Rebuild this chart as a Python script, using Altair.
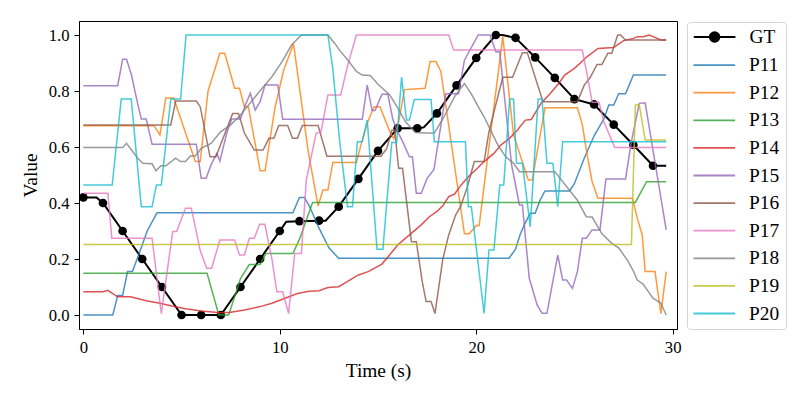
import altair as alt
import pandas as pd

SERIES = ["GT", "P11", "P12", "P13", "P14", "P15", "P16", "P17", "P18", "P19", "P20"]
COLORS = ["#000000", "#1f77b4", "#ff7f0e", "#2ca02c", "#d62728", "#9467bd",
          "#8c564b", "#e377c2", "#7f7f7f", "#bcbd22", "#17becf"]

GT = [(0, 0.42), (0.67, 0.42), (1, 0.40), (2, 0.30), (3, 0.20), (4, 0.10), (5, 0.0), (6, 0.0),
      (7, 0.0), (8, 0.10), (9, 0.20), (10, 0.30), (10.33, 0.333), (11, 0.335), (12, 0.337),
      (12.33, 0.337), (13, 0.387), (14, 0.486), (15, 0.586), (16, 0.667), (17, 0.667),
      (17.33, 0.67), (18, 0.72), (19, 0.82), (20, 0.918), (21, 1.0), (21.33, 1.0), (22, 0.99),
      (23, 0.92), (24, 0.847), (25, 0.771), (26, 0.752), (27, 0.68), (28, 0.607), (29, 0.533),
      (29.67, 0.533)]

P11 = [(0, 0), (1.5, 0), (1.75, 0.07), (2.0, 0.07), (2.25, 0.155), (2.5, 0.155), (3.0, 0.25),
       (3.25, 0.30), (3.75, 0.365), (10.67, 0.365), (11.0, 0.42), (11.25, 0.42), (11.5, 0.39),
       (12.0, 0.31), (12.5, 0.24), (13.0, 0.2025), (21.67, 0.2025), (22.0, 0.235), (22.25, 0.29),
       (22.5, 0.33), (22.75, 0.363), (23.0, 0.363), (23.25, 0.41), (23.5, 0.443), (24.75, 0.443),
       (25.0, 0.47), (25.5, 0.56), (26.0, 0.64), (26.5, 0.70), (26.75, 0.75), (27.0, 0.75),
       (27.25, 0.79), (27.6, 0.79), (28.0, 0.857), (29.67, 0.857)]

P12 = [(0, 0.676), (3.6, 0.676), (3.9, 0.643), (4.2, 0.775), (4.6, 0.775), (5.7, 0.548),
       (5.95, 0.548), (6.35, 0.80), (6.95, 0.935), (7.2, 0.935), (7.7, 0.81), (7.95, 0.81),
       (8.2, 0.744), (8.4, 0.744), (9.0, 0.515), (9.25, 0.515), (9.75, 0.738), (10.2, 0.875),
       (10.7, 0.968), (11.45, 0.583), (11.95, 0.39), (12.2, 0.446), (12.45, 0.446), (12.7, 0.545),
       (13.9, 0.545), (14.15, 0.613), (14.45, 0.685), (14.8, 0.744), (15.1, 0.744), (15.6, 0.655),
       (15.8, 0.63), (16.05, 0.69), (16.35, 0.805), (17.4, 0.81), (17.65, 0.905), (17.95, 0.905),
       (18.2, 0.87), (19.4, 0.29), (19.65, 0.29), (20.0, 0.32), (20.15, 0.32), (21.35, 0.995),
       (21.9, 0.643), (22.65, 0.482), (22.85, 0.482), (23.5, 0.74), (25.15, 0.74), (25.4, 0.68),
       (25.65, 0.57), (25.9, 0.476), (26.2, 0.417), (27.95, 0.417), (28.2, 0.345), (28.45, 0.286),
       (28.6, 0.155), (29.1, 0.155), (29.4, 0.005), (29.67, 0.155)]

P13 = [(0, 0.149), (6.3, 0.149), (6.9, 0.0), (7.4, 0.0), (8.0, 0.13), (8.45, 0.18), (9.0, 0.18),
       (9.3, 0.22), (10.67, 0.22), (11.0, 0.27), (11.67, 0.402), (28.1, 0.402), (28.67, 0.476),
       (29.67, 0.476)]

P14 = [(0, 0.083), (1.0, 0.083), (1.25, 0.088), (1.75, 0.065), (2.4, 0.065), (3.2, 0.051),
       (3.9, 0.042), (4.5, 0.032), (5.2, 0.022), (6.0, 0.014), (7.0, 0.008), (7.5, 0.01),
       (8.2, 0.018), (9.0, 0.03), (9.6, 0.042), (10.2, 0.058), (10.9, 0.077), (11.5, 0.085),
       (12.0, 0.087), (12.45, 0.098), (13.0, 0.101), (13.5, 0.122), (14.0, 0.143), (14.5, 0.155),
       (15.2, 0.182), (15.6, 0.215), (16.0, 0.25), (16.5, 0.28), (17.2, 0.322), (17.6, 0.35),
       (18.0, 0.37), (18.3, 0.39), (18.6, 0.423), (18.9, 0.432), (19.2, 0.462), (19.6, 0.494),
       (20.1, 0.527), (20.4, 0.548), (20.9, 0.577), (21.25, 0.607), (21.7, 0.631), (22.1, 0.661),
       (22.5, 0.696), (22.8, 0.698), (23.3, 0.756), (23.7, 0.786), (24.2, 0.827), (24.5, 0.857),
       (25.0, 0.881), (25.65, 0.923), (26.2, 0.952), (27.0, 0.955), (27.5, 0.98), (28.0, 0.988),
       (28.2, 0.994), (28.5, 0.994), (28.8, 1.0), (29.0, 0.994), (29.4, 0.982), (29.67, 0.982)]

P15 = [(0, 0.819), (1.75, 0.819), (2.0, 0.913), (2.2, 0.913), (2.45, 0.857), (2.75, 0.76),
       (2.95, 0.70), (3.2, 0.70), (3.5, 0.61), (5.75, 0.61), (6.0, 0.488), (6.25, 0.488),
       (6.5, 0.536), (6.8, 0.577), (6.95, 0.55), (7.3, 0.649), (7.55, 0.70), (8.0, 0.70),
       (8.25, 0.75), (8.5, 0.792), (8.75, 0.732), (9.0, 0.762), (9.25, 0.821), (9.9, 0.821),
       (10.15, 0.699), (14.2, 0.699), (14.45, 0.821), (14.7, 0.73), (14.85, 0.73), (15.2, 0.788),
       (15.5, 0.788), (15.75, 0.70), (16.0, 0.655), (16.25, 0.62), (16.6, 0.565), (16.75, 0.565),
       (16.95, 0.435), (17.2, 0.435), (17.5, 0.488), (17.85, 0.52), (18.45, 0.79), (19.1, 0.79),
       (19.4, 0.91), (20.1, 1.0), (20.7, 1.0), (21.0, 0.94), (21.2, 0.94), (21.8, 0.536),
       (22.2, 0.393), (22.35, 0.393), (22.7, 0.131), (23.1, 0.036), (23.35, 0.006), (23.6, 0.006),
       (23.9, 0.12), (24.15, 0.214), (24.4, 0.125), (24.6, 0.125), (24.9, 0.095), (25.15, 0.155),
       (25.4, 0.274), (25.6, 0.274), (25.9, 0.304), (26.3, 0.304), (26.6, 0.486), (27.6, 0.486),
       (27.9, 0.62), (28.3, 0.756), (28.6, 0.758), (29.67, 0.304)]

P16 = [(0, 0.679), (4.45, 0.679), (4.7, 0.764), (5.75, 0.764), (5.95, 0.744), (6.45, 0.565),
       (6.75, 0.565), (7.6, 0.72), (7.9, 0.72), (8.2, 0.65), (8.7, 0.589), (9.15, 0.589),
       (9.45, 0.631), (9.7, 0.631), (9.95, 0.677), (10.4, 0.677), (10.65, 0.631), (10.9, 0.631),
       (11.15, 0.677), (11.95, 0.677), (12.4, 0.567), (15.15, 0.567), (15.45, 0.595), (15.7, 0.66),
       (15.85, 0.66), (16.05, 0.524), (16.25, 0.524), (16.7, 0.262), (16.95, 0.262), (17.25, 0.12),
       (17.45, 0.048), (17.7, 0.048), (17.9, 0.005), (18.3, 0.2), (18.6, 0.286), (18.95, 0.357),
       (19.2, 0.387), (19.55, 0.458), (19.9, 0.548), (20.4, 0.548), (20.65, 0.655), (21.35, 0.849),
       (21.85, 0.849), (22.35, 0.937), (22.6, 0.937), (23.4, 0.762), (25.15, 0.762), (25.5, 0.821),
       (25.8, 0.848), (26.15, 0.895), (26.4, 0.895), (26.7, 0.935), (26.9, 0.935), (27.2, 1.0),
       (27.35, 1.0), (27.6, 0.982), (29.67, 0.982)]

P17 = [(0, 0.435), (1.25, 0.435), (1.45, 0.274), (3.5, 0.274), (3.97, 0.005), (4.55, 0.298),
       (4.75, 0.298), (5.2, 0.381), (5.5, 0.381), (5.95, 0.23), (6.28, 0.167), (6.53, 0.167),
       (6.95, 0.268), (7.7, 0.268), (7.95, 0.214), (8.2, 0.214), (8.45, 0.274), (8.7, 0.274),
       (8.98, 0.324), (9.24, 0.324), (9.6, 0.2), (9.85, 0.083), (10.15, 0.083), (10.45, 0.005),
       (10.76, 0.22), (11.1, 0.22), (11.35, 0.482), (11.85, 0.649), (12.1, 0.655), (12.45, 0.786),
       (13.1, 0.786), (13.47, 0.895), (13.9, 1.0), (18.6, 1.0), (18.85, 0.946), (25.4, 0.946),
       (25.65, 0.857), (25.9, 0.76), (26.25, 0.76), (26.5, 0.69), (27.05, 0.598), (29.67, 0.598)]

P18 = [(0, 0.598), (2.0, 0.598), (2.2, 0.613), (2.5, 0.585), (2.77, 0.56), (3.03, 0.542),
       (3.5, 0.54), (3.7, 0.515), (3.95, 0.533), (4.2, 0.533), (4.7, 0.56), (4.95, 0.548),
       (5.2, 0.548), (5.45, 0.568), (5.7, 0.568), (6.0, 0.595), (6.5, 0.613), (7.0, 0.655),
       (7.5, 0.679), (8.0, 0.714), (8.55, 0.762), (9.1, 0.81), (9.6, 0.851), (10.1, 0.903),
       (10.6, 0.964), (11.1, 1.0), (12.45, 1.0), (12.8, 0.97), (13.05, 0.945), (13.47, 0.91),
       (13.9, 0.87), (14.2, 0.857), (14.6, 0.855), (15.0, 0.824), (15.6, 0.786), (16.0, 0.74),
       (16.4, 0.69), (16.9, 0.652), (17.85, 0.649), (18.3, 0.70), (18.9, 0.78), (19.4, 0.827),
       (19.75, 0.79), (20.1, 0.744), (20.4, 0.708), (20.7, 0.665), (21.1, 0.607), (21.5, 0.565),
       (21.9, 0.542), (22.2, 0.512), (24.0, 0.512), (24.7, 0.45), (25.15, 0.41), (25.6, 0.351),
       (25.9, 0.35), (26.4, 0.29), (26.9, 0.256), (27.25, 0.24), (27.7, 0.195), (28.0, 0.157),
       (28.2, 0.125), (28.5, 0.11), (28.8, 0.08), (29.0, 0.06), (29.4, 0.042), (29.67, 0.0)]

P19 = [(0, 0.252), (27.9, 0.252), (28.1, 0.75), (28.3, 0.75), (28.6, 0.625), (29.67, 0.625)]

P20 = [(0, 0.464), (1.47, 0.464), (1.93, 0.771), (2.44, 0.771), (2.95, 0.387), (3.5, 0.387),
       (3.72, 0.464), (3.97, 0.464), (4.45, 0.771), (4.95, 0.771), (5.23, 1.0), (12.45, 1.0),
       (12.7, 0.88), (13.05, 0.62), (13.45, 0.387), (13.7, 0.387), (13.95, 0.619), (14.2, 0.619),
       (14.45, 0.696), (14.95, 0.235), (15.25, 0.235), (15.7, 0.616), (15.95, 0.616), (16.2, 0.85),
       (16.45, 0.696), (16.6, 0.696), (16.85, 0.77), (17.7, 0.77), (17.87, 0.619), (19.45, 0.619),
       (19.6, 0.387), (19.75, 0.387), (20.4, 0.006), (20.65, 0.232), (20.9, 0.232), (21.2, 0.464),
       (21.4, 0.464), (21.7, 0.771), (21.9, 0.771), (22.05, 0.542), (22.35, 0.542), (22.75, 0.315),
       (23.15, 0.771), (23.35, 0.771), (23.6, 0.542), (23.9, 0.542), (24.15, 0.387), (24.4, 0.619),
       (29.67, 0.619)]

X_TICKS = [0, 10, 20, 30]
Y_TICKS = [0.0, 0.2, 0.4, 0.6, 0.8, 1.0]

rows = []
for name, pts in zip(SERIES, [GT, P11, P12, P13, P14, P15, P16, P17, P18, P19, P20]):
    for t, v in pts:
        rows.append({"series": name, "t": t, "v": v})
df = pd.DataFrame(rows)

FONT = "Liberation Serif"
LINE_PATH = "M-2.45,0L2.45,0"
GT_PATH = "M-2.45,0L2.45,0M0.55,0A0.55,0.55,0,1,1,-0.55,0A0.55,0.55,0,1,1,0.55,0Z"

common = dict(
    orient="none", legendX=608,
    symbolSize=289, symbolOffset=11.6, labelOffset=25, padding=6, rowPadding=6.6,
    labelFont=FONT, labelFontSize=19.4, labelColor="black",
)
# GT entry (drawn on top of the framed box, without a frame of its own)
legend_gt = alt.Legend(title=None, legendY=0, symbolType=GT_PATH, symbolStrokeColor="black",
                       symbolStrokeWidth=2.2, zindex=2, **common)
# P11..P20 entries, framed box; blank title reserves the first row for GT
legend_p = alt.Legend(title=" ", legendY=1, titleFontSize=19.4, titlePadding=8, titleFont=FONT,
                      symbolType=LINE_PATH, symbolStrokeWidth=1.8,
                      strokeColor="#d4d4d4", fillColor="white", cornerRadius=3,
                      zindex=1, **common)

x = alt.X("t:Q", scale=alt.Scale(domain=[-0.22, 30.22], nice=False, zero=False),
          axis=alt.Axis(values=X_TICKS, format="d", title="Time (s)", titlePadding=6))
y = alt.Y("v:Q", scale=alt.Scale(domain=[-0.05, 1.05], nice=False, zero=False),
          axis=alt.Axis(values=Y_TICKS, format=".1f", title="Value", titlePadding=8))

base = alt.Chart(df)
gt_line = base.transform_filter("datum.series === 'GT'").mark_line(
    strokeWidth=2, color="black").encode(x=x, y=y)
gt_pts = base.transform_filter("datum.series === 'GT' && datum.t % 1 === 0").mark_circle(
    size=75, opacity=1).encode(
    x=x, y=y,
    fill=alt.Fill("series:N", scale=alt.Scale(domain=SERIES[:1], range=COLORS[:1]),
                  legend=legend_gt))
p_lines = base.transform_filter("datum.series !== 'GT'").mark_line(
    strokeWidth=1.5, opacity=0.8).encode(
    x=x, y=y,
    stroke=alt.Stroke("series:N", scale=alt.Scale(domain=SERIES[1:], range=COLORS[1:]),
                      legend=legend_p))

chart = alt.layer(gt_line, gt_pts, p_lines).properties(
    width=598, height=308,
    autosize=alt.AutoSizeParams(type="none"),
    padding={"left": 71, "top": 13, "right": 115, "bottom": 63},
).configure_view(stroke="black", strokeWidth=1).configure_axis(
    grid=False, domainColor="black", tickColor="black", tickSize=5, labelPadding=5,
    labelFont=FONT, titleFont=FONT, labelFontSize=16.7, titleFontSize=19.4,
    labelColor="black", titleColor="black", titleFontWeight="normal",
)

chart.save("out.html", embed_options={"renderer": "svg", "actions": False})
